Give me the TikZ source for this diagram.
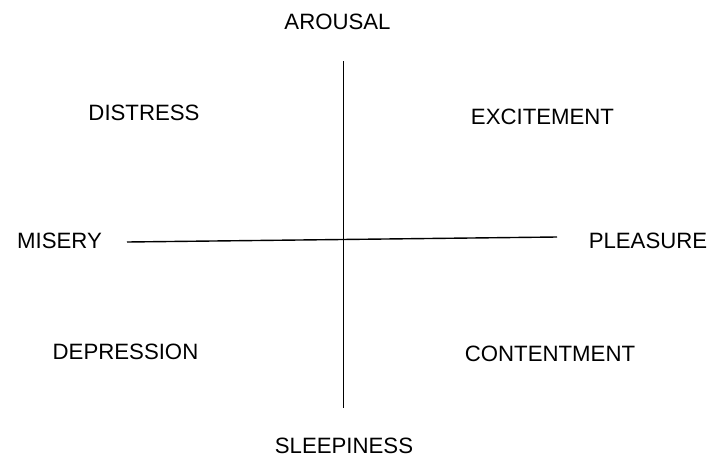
\documentclass[tikz,border=0pt]{standalone}
\usepackage{fontspec}
\setmainfont{Liberation Sans}
\begin{document}
\begin{tikzpicture}[x=1pt,y=-1pt,
  lbl/.style={inner sep=0pt,font=\fontsize{22.2}{26}\selectfont},
  axis/.style={draw=black,line width=1.4pt}]
\useasboundingbox[fill=white] (0,0) rectangle (710,461);
\node[lbl] (arousal) at (337.5,22) {AROUSAL};
\node[lbl] (distress) at (144,113) {DISTRESS};
\node[lbl] (excitement) at (542.5,117) {EXCITEMENT};
\node[lbl] (misery) at (59.5,241) {MISERY};
\node[lbl] (pleasure) at (648,241) {PLEASURE};
\node[lbl] (depression) at (125.5,352) {DEPRESSION};
\node[lbl] (contentment) at (550,354) {CONTENTMENT};
\node[lbl] (sleepiness) at (344,446) {SLEEPINESS};
\coordinate (vtop) at (343.5,61);
\coordinate (vbot) at (343.5,408);
\coordinate (hleft) at (127,242);
\coordinate (hright) at (557,237);
\draw[axis] (vtop) -- (vbot);
\draw[axis] (hleft) -- (hright);
\end{tikzpicture}
\end{document}
